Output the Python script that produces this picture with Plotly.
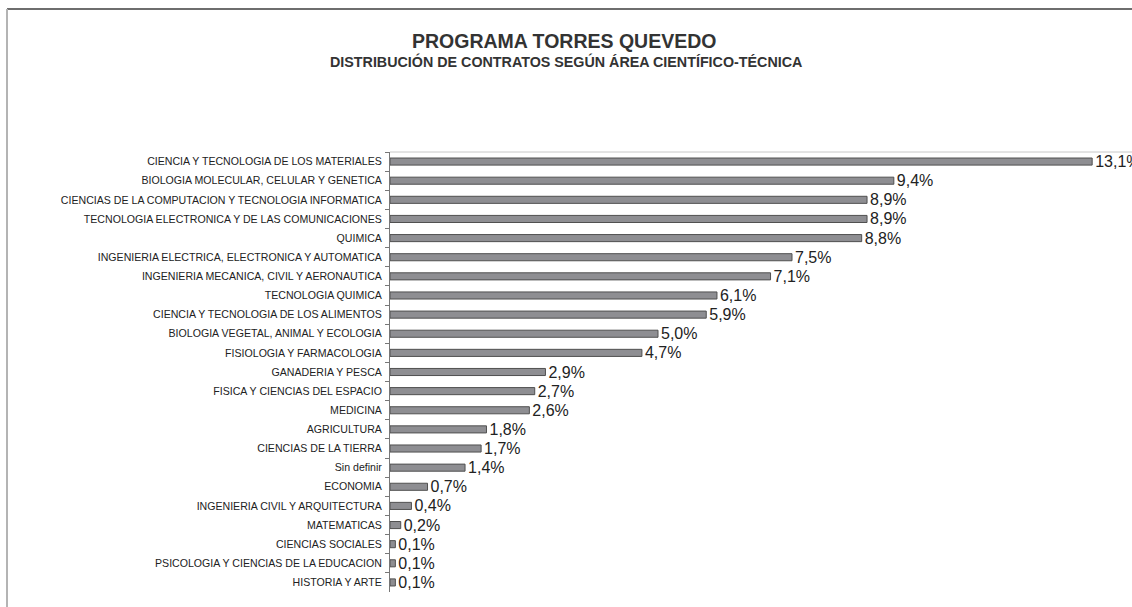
import plotly.graph_objects as go

categories = [
    "CIENCIA Y TECNOLOGIA DE LOS MATERIALES",
    "BIOLOGIA MOLECULAR, CELULAR Y GENETICA",
    "CIENCIAS DE LA COMPUTACION Y TECNOLOGIA INFORMATICA",
    "TECNOLOGIA ELECTRONICA Y DE LAS COMUNICACIONES",
    "QUIMICA",
    "INGENIERIA ELECTRICA, ELECTRONICA Y AUTOMATICA",
    "INGENIERIA MECANICA, CIVIL Y AERONAUTICA",
    "TECNOLOGIA QUIMICA",
    "CIENCIA Y TECNOLOGIA DE LOS ALIMENTOS",
    "BIOLOGIA VEGETAL, ANIMAL Y ECOLOGIA",
    "FISIOLOGIA Y FARMACOLOGIA",
    "GANADERIA Y PESCA",
    "FISICA Y CIENCIAS DEL ESPACIO",
    "MEDICINA",
    "AGRICULTURA",
    "CIENCIAS DE LA TIERRA",
    "Sin definir",
    "ECONOMIA",
    "INGENIERIA CIVIL Y ARQUITECTURA",
    "MATEMATICAS",
    "CIENCIAS SOCIALES",
    "PSICOLOGIA Y CIENCIAS DE LA EDUCACION",
    "HISTORIA Y ARTE",
]
values = [13.1, 9.4, 8.9, 8.9, 8.8, 7.5, 7.1, 6.1, 5.9, 5.0, 4.7, 2.9, 2.7, 2.6,
          1.8, 1.7, 1.4, 0.7, 0.4, 0.2, 0.1, 0.1, 0.1]
labels = [f"{v:.1f}%".replace(".", ",") for v in values]

W, H = 1132, 607
L, T, B, R = 390, 152, 15, 0
pw, ph = W - L - R, H - T - B

fig = go.Figure(go.Bar(
    x=values, y=categories, orientation="h",
    marker=dict(color="#8e8e92", line=dict(color="#505050", width=1)),
    text=labels, textposition="outside", cliponaxis=False, constraintext="none",
    textfont=dict(family="Liberation Sans, Arial", size=16, color="#222"),
    hoverinfo="skip",
))

def px_x(p):
    return (p - L) / pw

def px_y(p):
    return (H - B - p) / ph

fig.update_layout(
    width=W, height=H,
    margin=dict(l=L, r=R, t=T, b=B),
    paper_bgcolor="white", plot_bgcolor="white",
    bargap=0.63,
    showlegend=False,
    annotations=[
        dict(text="<b>PROGRAMA TORRES QUEVEDO</b>", xref="paper", yref="paper",
             x=px_x(564), y=px_y(41), showarrow=False, xanchor="center", yanchor="middle",
             font=dict(family="Liberation Sans, Arial", size=19.5, color="#333")),
        dict(text="<b>DISTRIBUCIÓN DE CONTRATOS SEGÚN ÁREA CIENTÍFICO-TÉCNICA</b>",
             xref="paper", yref="paper",
             x=px_x(566), y=px_y(62), showarrow=False, xanchor="center", yanchor="middle",
             font=dict(family="Liberation Sans, Arial", size=14.3, color="#333")),
    ],
    shapes=[
        dict(type="line", xref="paper", yref="paper", x0=0, x1=1, y0=1, y1=1,
             line=dict(color="#c8c8c8", width=1)),
        dict(type="line", xref="paper", yref="paper", x0=px_x(7), x1=px_x(W + 5),
             y0=px_y(9), y1=px_y(9), line=dict(color="#6e6e6e", width=2)),
        dict(type="line", xref="paper", yref="paper", x0=px_x(7), x1=px_x(7),
             y0=px_y(9), y1=px_y(H + 5), line=dict(color="#b4b4b4", width=2)),
    ],
)
fig.update_xaxes(range=[0, (W - L) / 53.6], visible=False, showgrid=False, zeroline=False)
fig.update_yaxes(
    autorange="reversed", type="category",
    showline=True, linecolor="#777", linewidth=1,
    ticks="outside", ticklen=4, tickcolor="#777", tickson="boundaries",
    ticklabelstandoff=5,
    showgrid=False,
    tickfont=dict(family="Liberation Sans, Arial", size=10.6, color="#222"),
)

fig.write_html(
    "out.html",
    config={"displayModeBar": False},
    post_script="document.body.style.margin='0';document.body.style.overflow='hidden';",
)
